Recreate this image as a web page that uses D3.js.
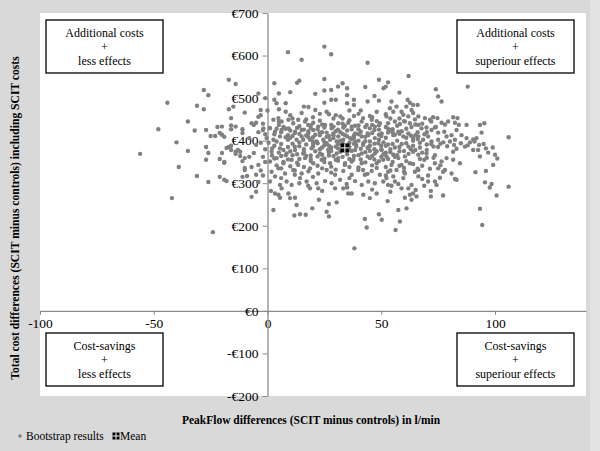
<!DOCTYPE html>
<html>
<head>
<meta charset="utf-8">
<script src="https://cdn.jsdelivr.net/npm/d3@7"></script>
<style>
  body { margin: 0; background: #d9d9d9; }
  svg { display: block; }
  text { font-family: "Liberation Serif", "Times New Roman", serif; }
</style>
</head>
<body>
<script>
// bootstrap cost-effect pairs [PeakFlow diff (l/min), cost diff (EUR)]
var bootstrapPoints = [
  [-56,369],[-48,427],[-44,489],[-39,338],[-42,265],[-24,185],[-35,376],[-31,317],[-26,303],[-26,371],
  [-27,385],[-21,315],[-19,308],[-21,357],[-19,350],[-18,383],[-16,388],[-14,374],[-12,374],[-11,352],
  [-10,336],[-10,359],[-11,315],[-9,317],[-7,268],[-8,362],[-7,338],[-17,543],[-14,533],[-28,519],
  [-26,507],[-31,482],[-28,474],[-17,474],[-15,480],[-10,466],[-35,445],[-16,453],[-32,424],[-27,425],
  [-25,411],[-23,411],[-22,432],[-20,433],[-20,414],[-16,427],[-14,433],[-11,427],[-11,418],[-40,396],
  [-7,441],[-6,437],[-21,418],[-19,409],[-16,436],[-17,385],[-16,378],[-13,378],[-14,369],[-12,364],
  [-20,371],[-19,348],[-27,355],[-18,305],[-10,331],[-5,280],[-3,472],[-4,456],[-5,442],[-2,425],
  [-8,406],[-5,390],[-6,371],[-4,343],[-5,320],[-4,303],[-2,440],[-1,415],[-3,395],[-1,380],
  [-2,362],[-4,420],[-1,350],[-3,330],[-2,318],[-3,460],[-1,500],[-4,511],
  [9,608],[25,621],[28,603],[15,590],[44,583],[49,543],[3,535],[14,541],[13,536],[25,545],
  [5,511],[10,514],[21,510],[25,518],[28,519],[31,527],[33,535],[35,523],[43,526],[51,523],
  [25,489],[28,496],[30,496],[35,507],[35,488],[38,496],[38,484],[47,505],[44,492],[49,494],
  [3,496],[4,488],[8,488],[0,471],[5,474],[8,468],[16,480],[18,479],[21,472],[23,463],
  [26,468],[30,460],[32,457],[36,471],[38,458],[41,471],[45,458],[48,468],
  [2.6,449],[4.8,453],[6.2,445],[9.2,449],[11.3,441],[13.5,449],[16.5,445],[17.9,437],[20.1,442],[22.3,433],
  [25.3,437],[28.2,429],[31.1,441],[33.3,431],[35.5,442],[38.5,435],[41.4,445],[43.6,437],[45.8,449],[47.2,433],
  [49.4,441],[-1.8,429],[1.1,429],[3.3,421],[6.2,425],[9.2,429],[12.1,421],[15,425],[17.9,417],[20.1,425],
  [23,413],[26,419],[28.9,417],[31.1,410],[34.1,413],[36.3,406],[38.5,417],[41.4,410],[44.3,413],[47.2,406],
  [50.2,417],[-0.4,406],[2.6,402],[5.5,410],[9.9,406],[12.8,402],[15.7,402],[18.7,402],[21.6,398],[24.5,402],
  [27.5,402],[30.4,398],[33.3,402],[38.5,398],[42.1,394],[45,398],[48.7,394],
  [62,552],[53,537],[52,527],[58,513],[74,521],[75,504],[76.5,492],[88,527],[61.6,496],[62.6,489],
  [64,484],[66,484],[61,480],[63.3,472],[54.5,492],[56.7,480],[53.8,476],[55.3,468],[58.9,468],[59.7,461],
  [61.9,457],[64.8,450],[66.3,457],[69.2,453],[71.4,449],[72.8,455],[74.7,453],[76.5,442],[79.4,445],[81.6,455],
  [83.5,453],[82.4,442],[84.1,437],[87.5,437],[93.4,437],[95.3,441],[94.1,419],[91.9,406],[106,408],[52.3,457],
  [53,441],[56,445],[58.2,439],[60.4,445],[62.6,441],[63.3,432],[66.3,437],[67.7,429],[69.9,431],[72.1,425],
  [73.6,431],[75,419],[77.7,421],[78.7,410],[80.9,413],[83.1,425],[85.3,413],[87.5,406],[90.4,403],[53.8,425],
  [55.3,413],[57.5,421],[59.7,410],[61.9,417],[64,406],[66.3,410],[68.4,402],[70.6,410],[72.1,398],[75,402],
  [77.3,396],[80.2,398],[82.4,402],
  [106,292],[99.2,343],[96,329],[91.4,326],[95.6,302],[97.7,290],[98.5,298],[100.7,271],[93.4,240],[94.4,202],
  [93.4,363],[84.6,347],[82.4,310],[83.1,308],[77.2,271],[80.9,323],[78,331],[81.6,355],[71.8,269],[71.8,282],
  [68.9,294],[73.6,304],[74.3,296],[65.5,269],[64,276],[62.6,273],[63.3,261],[60.4,266],[65.1,284],[61.9,288],
  [63.3,296],[57.5,237],[61.1,241],[58.2,210],[56.3,190],[52.8,258],[58.9,288],[57.5,298],[54.5,294],[56,304],
  [53,296],[59.7,312],[66.3,316],[70.6,318],[75.8,313],[77.2,327],[71.4,334],[75,335],[68,341],[66.3,331],
  [68.9,355],[73.6,347],[76.5,351],[78.7,359],[81.6,374],[83.1,381],[86.8,386],[90.4,378],[92.6,378],[73.6,366],
  [69.9,370],[66.3,367],[64,374],[60.4,363],[57.5,359],[55.3,367],[52.3,363],[62.6,347],[58.9,343],[54.5,343],
  [53,327],[56.7,331],[60.4,323],[64.8,327],[52.3,312],[55.3,316],[70.6,304],
  [38.2,147],[43.6,196],[42.8,216],[49,227],[50.2,214],[2.6,237],[11.8,224],[14.3,227],[16.8,226],[12.8,249],
  [19.7,241],[22.6,261],[26,233],[27,222],[27,251],[30.4,255],[9.9,265],[12.1,266],[5.5,266],[4.8,273],
  [3.3,276],[1.5,282],[6.2,288],[9.2,276],[18.7,288],[17.9,294],[22.3,288],[29.7,288],[33.3,288],[35.5,276],
  [37,276],[42.1,273],[45,265],[48,276],[1.1,304],[3.3,316],[5.5,296],[8.4,304],[10.6,296],[14.3,312],
  [17.2,304],[21.6,300],[25.3,305],[28.2,300],[31.9,308],[34.8,298],[38.5,305],[41.4,296],[44.3,304],[47.2,300],
  [50.9,304],[1.8,327],[4.8,335],[7.7,323],[11.3,331],[15,323],[18.7,335],[22.3,323],[26,331],[29.7,320],
  [33.3,329],[37,320],[39.9,331],[42.8,320],[45.8,329],[49.4,320],[1.1,351],[4,359],[7,347],[10.6,355],
  [13.5,343],[16.5,359],[20.1,347],[23.8,355],[27.5,347],[31.1,359],[34.1,347],[37.7,355],[41.4,347],[45,359],
  [48,347],[50.9,355],[1.8,374],[5.5,382],[8.4,370],[12.1,378],[15.7,370],[19.4,382],[23.1,370],[26.7,378],
  [30.4,370],[38.5,378],[41.4,370],[44.3,382],[47.2,370],[50.2,378],
  [0.5,395],[3,388],[6,392],[9,385],[11,393],[14,387],[17,391],[20,386],[22,394],[25,389],
  [28,384],[31,392],[34,388],[36,395],[39,386],[42,390],[44,384],[47,393],[50,388],[53,391],
  [56,384],[59,392],[2,365],[5,372],[8,366],[10,375],[13,368],[16,373],[19,365],[21,375],
  [24,367],[27,372],[29,364],[32,374],[35,368],[37,376],[40,366],[43,373],[46,364],[48,375],
  [51,368],[54,373],[57,366],[60,376],[62,369],[3,415],[6,420],[9,413],[12,418],[15,410],
  [18,422],[21,414],[24,420],[27,411],[30,422],[33,416],[35,424],[38,412],[41,421],[44,417],
  [47,425],[50,411],[53,419],[56,414],[59,422],[63,412],[66,420],[4,342],[7,350],[10,340],
  [13,348],[16,338],[19,352],[22,341],[25,350],[28,339],[31,353],[34,343],[37,351],[40,337],
  [43,349],[46,342],[49,352],[52,338],[55,350],[58,341],[61,352],[64,345],[67,357],[70,360],
  [1,430],[5,437],[8,428],[14,434],[19,430],[24,438],[29,433],[33,440],[37,427],[40,436],
  [45,429],[49,436],[53,428],[57,435],[61,428],[65,438],[69,415],[72,392],[75,385],[70,378],
  [67,395],[64,400],[68,372],[73,360],[76,342],[62,386],[65,378],[10,460],[15,465],[20,455],
  [27,462],[33,452],[40,463],[46,455],[52,462],[58,452],[64,465],[12,320],[20,315],[28,325],
  [36,312],[44,322],[52,318],[60,327],[68,310],[6,312],[35,290],[24,282],[46,285],[54,280],
  [14,300],[52,388],[55,392],[58,385],[61,394],[64,388],[67,384],[70,391],[73,386],[76,393],
  [79,387],[82,390],[85,394],[88,389],[91,398],[95,392],[89,396],[93,390],[97,372],[99,384],
  [101,358],[96,382],[100,367],
  [2,382],[4,398],[7,378],[9,402],[12,386],[14,396],[16,380],[18,408],[20,392],[23,380],
  [25,397],[27,388],[29,406],[31,382],[33,395],[35,378],[37,404],[39,390],[41,381],[43,399],
  [45,388],[47,380],[49,402],[51,396],[54,380],[57,400],[3,358],[6,364],[9,356],[11,366],
  [14,357],[17,364],[19,357],[22,363],[25,358],[27,365],[30,355],[33,362],[36,357],[38,364],
  [41,356],[44,363],[47,356],[50,362],[53,357],[56,362],[4,428],[7,432],[10,424],[13,430],
  [16,426],[19,436],[22,427],[25,431],[28,437],[31,426],[34,435],[37,433],[40,427],[43,432],
  [46,437],[49,426],[52,432],[55,427],[5,445],[11,452],[17,450],[23,447],[29,452],[36,448],
  [42,453],[48,446],[54,452],[60,446],[6,335],[12,330],[18,328],[24,335],[30,332],[36,338],
  [42,331],[48,336],[54,330],[60,336],[66,334],[8,408],[11,411],[14,416],[17,412],[20,408],
  [23,419],[26,409],[29,413],[32,420],[35,410],[38,407],[40,415],[43,409],[46,418],[49,414],
  [52,407],[55,420],[58,416],[61,407],[65,413],[26,394],[30,386],[32,400],[36,385],[38,393],
  [40,400],[34,381],[28,376],[24,384],[20,398],[45,376],[50,380],[52,372],[58,375],[63,380],
  [66,404],[70,420],[68,440],[72,445],[74,432],[78,438]
];
var meanPoint = [34, 383];

var xTicks = [-100, -50, 0, 50, 100];
var yTicks = [-200, -100, 0, 100, 200, 300, 400, 500, 600, 700];

var quadrantLines = [
  ["Additional costs", "+", "less effects"],
  ["Additional costs", "+", "superiour effects"],
  ["Cost-savings", "+", "less effects"],
  ["Cost-savings", "+", "superiour effects"]
];

var xTitle = "PeakFlow differences (SCIT minus controls) in l/min";
var yTitle = "Total cost differences (SCIT minus controls)  including SCIT costs";
var legendLabels = ["Bootstrap results", "Mean"];

var width = 600, height = 451;
var plotLeft = 40, plotRight = 586, plotTop = 13, plotBottom = 396;

var svg = d3.select('body').append('svg')
  .attr('width', width)
  .attr('height', height);

svg.append('rect').attr('width', width).attr('height', height).attr('fill', '#d9d9d9');
svg.append('rect').attr('x', 590).attr('width', 10).attr('height', height).attr('fill', '#e3e3e3');

svg.append('rect')
  .attr('x', plotLeft).attr('y', plotTop)
  .attr('width', plotRight - plotLeft).attr('height', plotBottom - plotTop)
  .attr('fill', '#fff');

var xscale = d3.scaleLinear().domain([-100, 140]).range([plotLeft, plotRight]);
var yscale = d3.scaleLinear().domain([-200, 700]).range([plotBottom, plotTop]);

function euro(d) {
  return d < 0 ? '-€' + (-d) : '€' + d;
}

var xaxis = d3.axisBottom(xscale).tickValues(xTicks).tickSize(4).tickSizeOuter(0).tickPadding(4)
  .tickFormat(function(d) { return String(d); });
var yaxis = d3.axisLeft(yscale).tickValues(yTicks).tickSize(5).tickSizeOuter(0).tickPadding(4).tickFormat(euro);

var gx = svg.append('g')
  .attr('transform', 'translate(0,' + yscale(0) + ')')
  .call(xaxis);
var gy = svg.append('g')
  .attr('transform', 'translate(' + xscale(0) + ',0)')
  .call(yaxis);

[gx, gy].forEach(function(g) {
  g.select('.domain').attr('stroke', '#8c8c8c').attr('stroke-width', 1.3);
  g.selectAll('.tick line').attr('stroke', '#8c8c8c');
  g.selectAll('.tick text')
    .attr('fill', '#000')
    .style('font-family', '"Liberation Serif", "Times New Roman", serif')
    .style('font-size', '13.5px');
});

// scatter
svg.append('g').selectAll('circle')
  .data(bootstrapPoints)
  .enter().append('circle')
  .attr('cx', function(d) { return xscale(d[0]); })
  .attr('cy', function(d) { return yscale(d[1]); })
  .attr('r', 2.2)
  .attr('fill', '#808080');

// mean marker: black square split in four
function meanMarker(g, cx, cy, s) {
  g.append('rect').attr('x', cx - s / 2).attr('y', cy - s / 2)
    .attr('width', s).attr('height', s).attr('fill', '#000');
  g.append('line').attr('x1', cx - s / 2).attr('x2', cx + s / 2).attr('y1', cy).attr('y2', cy)
    .attr('stroke', '#fff').attr('stroke-width', 1);
  g.append('line').attr('x1', cx).attr('x2', cx).attr('y1', cy - s / 2).attr('y2', cy + s / 2)
    .attr('stroke', '#fff').attr('stroke-width', 1);
}
meanMarker(svg.append('g'), xscale(meanPoint[0]), yscale(meanPoint[1]), 9);

// quadrant boxes
var boxPos = [[46, 20], [457, 20], [46, 333], [457, 333]];
var boxW = 117, boxH = 53;
quadrantLines.forEach(function(lines, i) {
  var g = svg.append('g').attr('transform', 'translate(' + boxPos[i][0] + ',' + boxPos[i][1] + ')');
  g.append('rect').attr('width', boxW).attr('height', boxH)
    .attr('fill', '#fff').attr('stroke', '#000').attr('stroke-width', 1.3);
  g.selectAll('text').data(lines).enter().append('text')
    .attr('x', boxW / 2)
    .attr('y', function(d, j) { return 17 + j * 14; })
    .attr('text-anchor', 'middle')
    .style('font-size', '12px')
    .text(function(d) { return d; });
});

// axis titles
svg.append('text')
  .attr('x', 311).attr('y', 424)
  .attr('text-anchor', 'middle')
  .style('font-size', '11.5px').style('font-weight', 'bold')
  .text(xTitle);

svg.append('text')
  .attr('transform', 'translate(19,218) rotate(-90)')
  .attr('text-anchor', 'middle')
  .style('font-size', '11.6px').style('font-weight', 'bold')
  .text(yTitle);

// legend
var lg = svg.append('g').attr('transform', 'translate(0,436)');
lg.append('circle').attr('cx', 20).attr('cy', 0).attr('r', 1.8).attr('fill', '#808080');
lg.append('text').attr('x', 26).attr('y', 4).style('font-size', '11.5px').text(legendLabels[0]);
meanMarker(lg, 116, 0, 7);
lg.append('text').attr('x', 120).attr('y', 4).style('font-size', '11.5px').text(legendLabels[1]);
</script>
</body>
</html>
